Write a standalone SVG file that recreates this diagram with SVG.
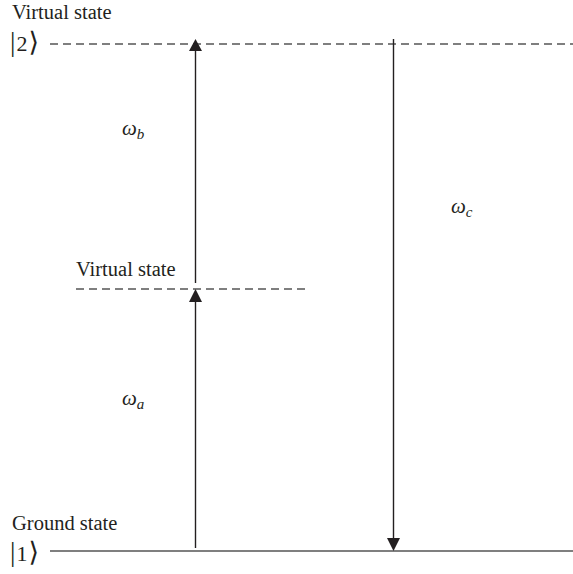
<svg xmlns="http://www.w3.org/2000/svg" width="573" height="574" viewBox="0 0 573 574">
<style>
.lbl{font-family:"Liberation Serif","DejaVu Serif",serif;font-size:20.5px;fill:#231f20}
.ket{font-family:"Liberation Serif","DejaVu Serif",serif;font-size:22px;fill:#231f20}
.br{font-size:27px}
.om{font-family:"Liberation Serif","DejaVu Serif",serif;font-style:italic;font-size:21px;fill:#231f20}
.sub{font-size:15px}
.lvl{stroke:#555;stroke-width:1.5;fill:none}
.dash{stroke-dasharray:8 5}
.arr{stroke:#231f20;stroke-width:1.4;fill:none}
.head{fill:#231f20}
</style>
<rect width="573" height="574" fill="#fff"/>
<g id="level2">
<text class="lbl" x="12" y="19">Virtual state</text>
<text class="ket" x="10" y="51"><tspan class="br">|</tspan><tspan dx="1">2</tspan><tspan class="br" dx="1">⟩</tspan></text>
<line class="lvl dash" x1="50" y1="44" x2="573" y2="44"/>
</g>
<g id="levelmid">
<text class="lbl" x="76" y="276">Virtual state</text>
<line class="lvl dash" x1="76" y1="289" x2="305" y2="289"/>
</g>
<g id="level1">
<text class="lbl" x="12" y="530">Ground state</text>
<text class="ket" x="10" y="561"><tspan class="br">|</tspan><tspan dx="1">1</tspan><tspan class="br" dx="1">⟩</tspan></text>
<line class="lvl" x1="50" y1="551" x2="573" y2="551"/>
</g>
<g id="connectors">
<line class="arr" x1="195.5" y1="548" x2="195.5" y2="300"/>
<polygon class="head" points="195.5,289 189,302 202,302"/>
<line class="arr" x1="195.5" y1="283" x2="195.5" y2="50"/>
<polygon class="head" points="195.5,39 189,51 202,51"/>
<line class="arr" x1="393.5" y1="39" x2="393.5" y2="540"/>
<polygon class="head" points="393.5,551 387,538 400,538"/>
</g>
<g id="labels">
<text class="om" x="122" y="135">ω<tspan class="sub" dy="4">b</tspan></text>
<text class="om" x="122" y="405">ω<tspan class="sub" dy="4">a</tspan></text>
<text class="om" x="451" y="213">ω<tspan class="sub" dy="4">c</tspan></text>
</g>
</svg>
